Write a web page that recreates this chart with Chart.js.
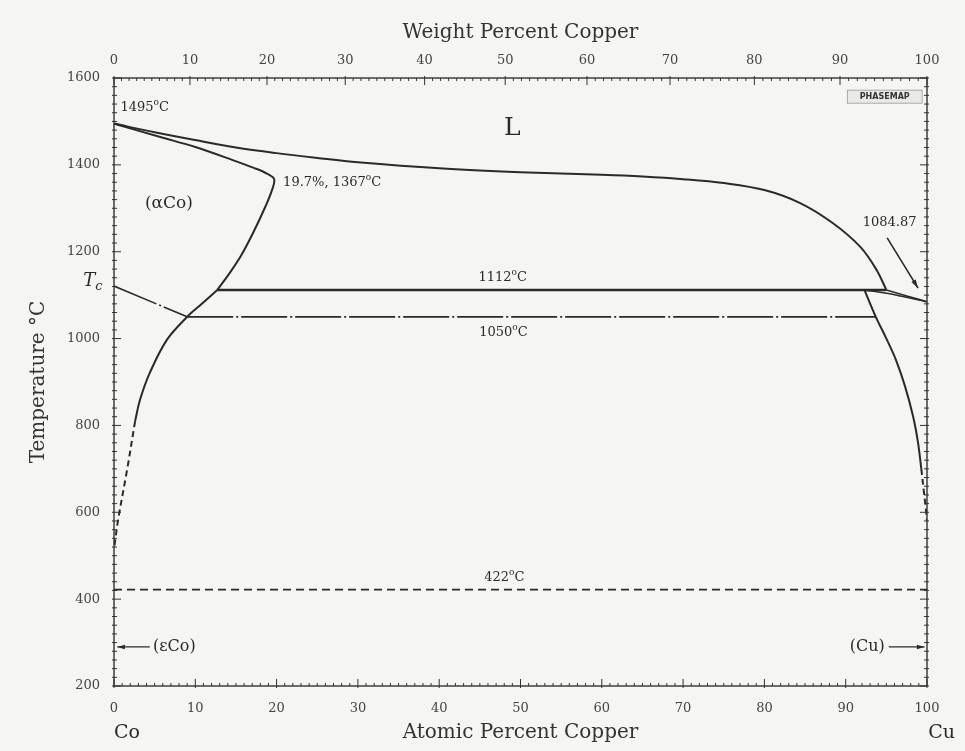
<!DOCTYPE html>
<html lang="en">
<head>
<meta charset="UTF-8">
<title>Co-Cu Phase Diagram</title>
<script src="https://cdn.jsdelivr.net/npm/chart.js"></script>
<style>
html, body { margin: 0; padding: 0; background: #f5f5f3; }
#wrap { width: 965px; height: 751px; }
</style>
</head>
<body>
<div id="wrap"><canvas id="phase-chart" width="965" height="751"></canvas></div>
<script>
// Co-Cu phase boundaries: atomic % Cu against temperature (degC)
const liquidusX = [0, 5, 10, 15, 20, 25, 30, 40, 50, 60, 65, 70, 75, 80, 84.4, 88.4, 91.8, 93.8, 95];
const liquidusT = [1495, 1475, 1457, 1440, 1427, 1416, 1406, 1392, 1383, 1377, 1373, 1367, 1358, 1342, 1312, 1266, 1211, 1158, 1112];

const cuLiquidusX = [95, 97.5, 100];
const cuLiquidusT = [1112, 1098, 1084.87];
const cuSolidusX = [92.3, 96, 100];
const cuSolidusT = [1112, 1101, 1084.87];

const coSolidusX = [0, 5.7, 10, 14.6, 17.2, 18.8, 19.7, 19.4, 18.6, 17.1, 15.6, 14.2, 12.7];
const coSolidusT = [1495, 1464, 1441, 1411, 1393, 1380, 1367, 1340, 1303, 1243, 1190, 1150, 1112];

const coSolvusX = [12.7, 10.8, 9, 6.5, 4.4, 3.2, 2.6];
const coSolvusT = [1112, 1080, 1050, 997, 921, 859, 810];
const coSolvusDashX = [2.6, 1.6, 0.5, 0];
const coSolvusDashT = [810, 697, 582, 515];

const cuSolvusX = [92.3, 93.7, 95.0, 96.2, 97.3, 98.3, 98.9, 99.3];
const cuSolvusT = [1112, 1050, 1000, 950, 890, 820, 760, 700];
const cuSolvusDashX = [99.3, 99.6, 99.85, 100];
const cuSolvusDashT = [700, 650, 610, 580];

// magnetic transition (Tc) and the invariant lines
const curieX = [0, 9];
const curieT = [1121, 1050];
const line1050X = [9, 93.7];
const line1050T = [1050, 1050];
const peritecticX = [12.7, 95];
const peritecticT = [1112, 1112];
const line422X = [0, 100];
const line422T = [422, 422];

const atTicks = [0, 10, 20, 30, 40, 50, 60, 70, 80, 90, 100];
const wtTicks = [0, 10, 20, 30, 40, 50, 60, 70, 80, 90, 100];
const tempTicks = [200, 400, 600, 800, 1000, 1200, 1400, 1600];

// atomic weights for the weight-percent axis
const M_CU = 63.546, M_CO = 58.933;
function wtToAt(w) {
  if (w <= 0) return 0;
  if (w >= 100) return 100;
  const a = w / M_CU, b = (100 - w) / M_CO;
  return 100 * a / (a + b);
}

const INK = '#2a2a2a';
const SERIF = '"DejaVu Serif", "Liberation Serif", serif';

function series(xs, ts, extra) {
  return Object.assign({
    data: xs.map((x, i) => ({ x, y: ts[i] })),
    showLine: true,
    borderColor: INK,
    borderWidth: 2,
    pointRadius: 0,
    tension: 0.35,
    fill: false
  }, extra || {});
}

const datasets = [
  series(liquidusX, liquidusT),
  series(cuLiquidusX, cuLiquidusT, { tension: 0.2, borderWidth: 1.6 }),
  series(cuSolidusX, cuSolidusT, { tension: 0.2, borderWidth: 1.6 }),
  series(coSolidusX, coSolidusT),
  series(coSolvusX, coSolvusT),
  series(coSolvusDashX, coSolvusDashT, { borderDash: [6, 4] }),
  series(cuSolvusX, cuSolvusT),
  series(cuSolvusDashX, cuSolvusDashT, { borderDash: [6, 4] }),
  series(curieX, curieT, { tension: 0, borderWidth: 1.6, borderDash: [46, 3, 2, 3] }),
  series(line1050X, line1050T, { tension: 0, borderWidth: 1.8, borderDash: [46, 3, 2, 3] }),
  series(peritecticX, peritecticT, { tension: 0, borderWidth: 2.6 }),
  series(line422X, line422T, { tension: 0, borderWidth: 1.6, borderDash: [8, 5] })
];

// text with ^x for superscript and _x for subscript characters
function richText(ctx, str, x, y, size, align, style) {
  const segs = [];
  for (let i = 0; i < str.length; i++) {
    const c = str[i];
    if ((c === '^' || c === '_') && i + 1 < str.length) {
      segs.push({ t: str[i + 1], k: c });
      i++;
    } else if (segs.length && !segs[segs.length - 1].k) {
      segs[segs.length - 1].t += c;
    } else {
      segs.push({ t: c, k: null });
    }
  }
  const pre = style ? style + ' ' : '';
  const fontFor = s => pre + (s.k ? Math.round(size * 0.72) : size) + 'px ' + SERIF;
  let total = 0;
  segs.forEach(s => { ctx.font = fontFor(s); s.w = ctx.measureText(s.t).width; total += s.w; });
  let cx = align === 'center' ? x - total / 2 : align === 'right' ? x - total : x;
  ctx.textAlign = 'left';
  ctx.textBaseline = 'middle';
  segs.forEach(s => {
    ctx.font = fontFor(s);
    const dy = s.k === '^' ? -size * 0.42 : s.k === '_' ? size * 0.3 : 0;
    ctx.fillText(s.t, cx, y + dy);
    cx += s.w;
  });
}

function arrow(ctx, x1, y1, x2, y2, head) {
  ctx.beginPath();
  ctx.moveTo(x1, y1);
  ctx.lineTo(x2, y2);
  ctx.stroke();
  const ang = Math.atan2(y2 - y1, x2 - x1);
  ctx.beginPath();
  ctx.moveTo(x2, y2);
  ctx.lineTo(x2 - head * Math.cos(ang - 0.28), y2 - head * Math.sin(ang - 0.28));
  ctx.lineTo(x2 - head * Math.cos(ang + 0.28), y2 - head * Math.sin(ang + 0.28));
  ctx.closePath();
  ctx.fill();
}

const framePlugin = {
  id: 'frame',
  beforeDraw(chart) {
    const ctx = chart.ctx;
    ctx.save();
    ctx.fillStyle = '#f5f5f3';
    ctx.fillRect(0, 0, chart.width, chart.height);
    ctx.restore();
  },
  afterDraw(chart) {
    const { ctx, chartArea: a, scales: { x, y } } = chart;
    const X = v => x.getPixelForValue(v);
    const Y = v => y.getPixelForValue(v);
    const seg = (x1, y1, x2, y2) => { ctx.beginPath(); ctx.moveTo(x1, y1); ctx.lineTo(x2, y2); ctx.stroke(); };

    ctx.save();
    ctx.strokeStyle = '#333';
    ctx.lineWidth = 1.4;
    ctx.strokeRect(a.left, a.top, a.right - a.left, a.bottom - a.top);

    // minor ticks every 1 % and every 20 degC, majors at the labels
    ctx.lineWidth = 1;
    for (let v = 0; v <= 100; v++) {
      const major = v % 10 === 0;
      const len = major ? 7 : 3;
      const pb = X(v);
      seg(pb, a.bottom + (major ? 2 : 0), pb, a.bottom - len);
      const pt = X(wtToAt(v));
      seg(pt, a.top - (major ? 2 : 0), pt, a.top + len);
    }
    for (let t = 200; t <= 1600; t += 20) {
      const major = t % 200 === 0;
      const len = major ? 7 : 3;
      const py = Y(t);
      seg(a.left - 2, py, a.left + len, py);
      seg(a.right + 2, py, a.right - len, py);
    }

    ctx.fillStyle = INK;
    ctx.strokeStyle = INK;

    richText(ctx, '1495^oC', X(0.8), Y(1531), 13, 'left');
    richText(ctx, 'L', X(49), Y(1484), 25, 'center');
    richText(ctx, '(\u03b1Co)', X(3.8), Y(1310), 17, 'left');
    richText(ctx, '19.7%, 1367^oC', X(20.8), Y(1358), 13, 'left');
    richText(ctx, '1084.87', X(95.4), Y(1266), 13, 'center');
    ctx.lineWidth = 1.6;
    arrow(ctx, X(95.1), Y(1232), X(98.9), Y(1116), 9);
    richText(ctx, '1112^oC', X(47.8), Y(1140), 13, 'center');
    richText(ctx, '1050^oC', X(47.9), Y(1013), 13, 'center');
    richText(ctx, '422^oC', X(48), Y(449), 13, 'center');
    richText(ctx, 'T_c', X(-2.6), Y(1132), 18, 'center', 'italic');

    ctx.lineWidth = 1.4;
    arrow(ctx, X(4.4), Y(290), X(0.4), Y(290), 8);
    richText(ctx, '(\u03b5Co)', X(4.8), Y(290), 16, 'left');
    arrow(ctx, X(95.3), Y(290), X(99.7), Y(290), 8);
    richText(ctx, '(Cu)', X(94.8), Y(290), 16, 'right');

    richText(ctx, 'Co', X(1.6), a.bottom + 47, 19, 'center');
    richText(ctx, 'Cu', X(101.8), a.bottom + 47, 19, 'center');

    // program stamp, upper right
    const bx = X(90.2), by = Y(1572), bw = X(99.4) - bx, bh = Y(1542) - by;
    ctx.fillStyle = '#e9e9e7';
    ctx.fillRect(bx, by, bw, bh);
    ctx.lineWidth = 0.8;
    ctx.strokeStyle = '#999';
    ctx.strokeRect(bx, by, bw, bh);
    ctx.fillStyle = '#333';
    ctx.font = 'bold 8px "DejaVu Sans", sans-serif';
    ctx.textAlign = 'center';
    ctx.textBaseline = 'middle';
    ctx.fillText('PHASEMAP', bx + bw / 2, by + bh / 2 + 0.5);
    ctx.restore();
  }
};

const tickFont = { family: SERIF, size: 13 };
const titleFont = { family: SERIF, size: 20 };
const plainLabel = v => String(v);

new Chart(document.getElementById('phase-chart').getContext('2d'), {
  type: 'scatter',
  data: { datasets },
  options: {
    responsive: false,
    animation: false,
    layout: { padding: { right: 38 } },
    plugins: { legend: { display: false }, tooltip: { enabled: false } },
    scales: {
      x: {
        type: 'linear', position: 'bottom', min: 0, max: 100,
        afterBuildTicks: s => { s.ticks = atTicks.map(v => ({ value: v })); },
        ticks: { color: '#444', font: tickFont, padding: 15, maxRotation: 0, autoSkip: false, callback: plainLabel },
        grid: { display: false, drawTicks: false },
        border: { display: false },
        title: { display: true, text: 'Atomic Percent Copper', color: '#333', font: titleFont, padding: { bottom: 6 } },
        afterFit: s => { s.height = 65; }
      },
      xTop: {
        type: 'linear', position: 'top', min: 0, max: 100,
        afterBuildTicks: s => { s.ticks = wtTicks.map(w => ({ value: wtToAt(w) })); },
        ticks: { color: '#444', font: tickFont, padding: 10, maxRotation: 0, autoSkip: false,
                 callback: (v, i) => String(wtTicks[i]) },
        grid: { display: false, drawTicks: false },
        border: { display: false },
        title: { display: true, text: 'Weight Percent Copper', color: '#333', font: titleFont, padding: { top: 21 } },
        afterFit: s => { s.height = 78; }
      },
      y: {
        type: 'linear', position: 'left', min: 200, max: 1600,
        afterBuildTicks: s => { s.ticks = tempTicks.map(v => ({ value: v })); },
        ticks: { color: '#444', font: tickFont, padding: 14, autoSkip: false, callback: plainLabel },
        grid: { display: false, drawTicks: false },
        border: { display: false },
        title: { display: true, text: 'Temperature \u00b0C', color: '#333', font: titleFont, padding: { top: 27 } },
        afterFit: s => { s.width = 114; }
      }
    }
  },
  plugins: [framePlugin]
});
</script>
</body>
</html>
